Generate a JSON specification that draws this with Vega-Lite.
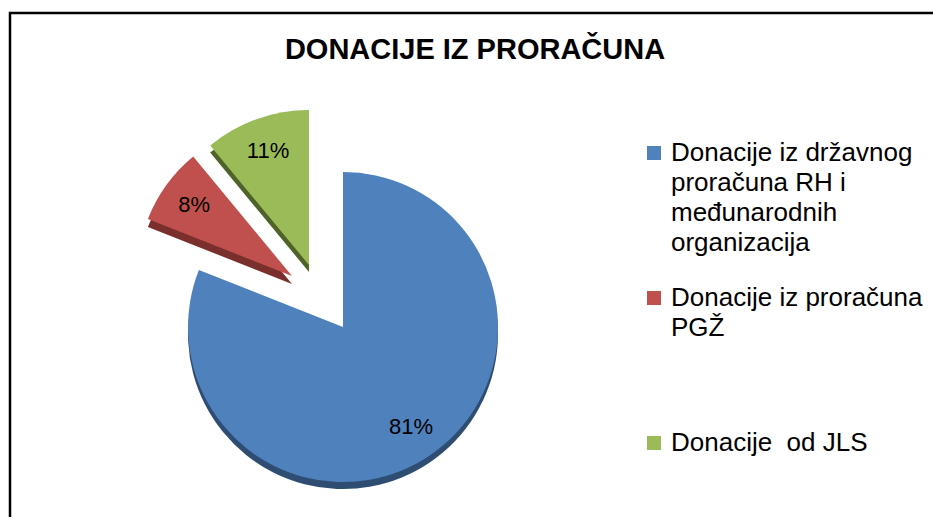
{
  "$schema": "https://vega.github.io/schema/vega-lite/v6.json",
  "width": 940,
  "height": 520,
  "autosize": {"type": "none"},
  "padding": {"left": 10, "top": 13, "right": 0, "bottom": 0},
  "background": "white",
  "view": {"stroke": "black", "strokeWidth": 2.5, "fill": "white"},
  "title": {
    "text": "DONACIJE IZ PRORAČUNA",
    "font": "Liberation Sans",
    "fontSize": 29,
    "fontWeight": "bold",
    "color": "black",
    "anchor": "middle",
    "baseline": "alphabetic",
    "offset": -75,
    "dx": -5
  },
  "data": {
    "values": [
      {"cat": "Donacije iz državnog proračuna RH i međunarodnih organizacija", "value": 0.81, "order": 1},
      {"cat": "Donacije iz proračuna PGŽ", "value": 0.08, "order": 2},
      {"cat": "Donacije  od JLS", "value": 0.11, "order": 3}
    ]
  },
  "transform": [
    {"stack": "value", "groupby": [], "sort": [{"field": "order", "order": "ascending"}], "as": ["v0", "v1"]}
  ],
  "layer": [
    {
      "transform": [{"filter": "datum.order === 1"}],
      "mark": {"type": "arc", "radius": 155, "xOffset": -137, "yOffset": 61},
      "encoding": {
        "theta": {"field": "v0", "type": "quantitative", "scale": {"domain": [0, 1]}},
        "theta2": {"field": "v1"},
        "color": {"value": "#2F4D73"}
      }
    },
    {
      "transform": [{"filter": "datum.order === 2"}],
      "mark": {"type": "arc", "radius": 155, "xOffset": -188, "yOffset": 11},
      "encoding": {
        "theta": {"field": "v0", "type": "quantitative", "scale": {"domain": [0, 1]}},
        "theta2": {"field": "v1"},
        "color": {"value": "#7A2F2D"}
      }
    },
    {
      "transform": [{"filter": "datum.order === 3"}],
      "mark": {"type": "arc", "radius": 155, "xOffset": -171, "yOffset": -1},
      "encoding": {
        "theta": {"field": "v0", "type": "quantitative", "scale": {"domain": [0, 1]}},
        "theta2": {"field": "v1"},
        "color": {"value": "#4F6228"}
      }
    },
    {
      "transform": [{"filter": "datum.order === 1"}],
      "mark": {"type": "arc", "radius": 155, "xOffset": -137, "yOffset": 54},
      "encoding": {
        "theta": {"field": "v0", "type": "quantitative", "scale": {"domain": [0, 1]}},
        "theta2": {"field": "v1"},
        "color": {
          "field": "cat", "type": "nominal",
          "scale": {
            "domain": ["Donacije iz državnog proračuna RH i međunarodnih organizacija", "Donacije iz proračuna PGŽ", "Donacije  od JLS"],
            "range": ["#4F81BD", "#C0504D", "#9BBB59"]
          },
          "legend": {
            "title": null,
            "orient": "none",
            "legendX": 631,
            "legendY": 127,
            "padding": 0,
            "symbolType": "square",
            "symbolSize": 196,
            "symbolStrokeWidth": 0,
            "labelFont": "Liberation Sans",
            "labelFontSize": 26,
            "labelColor": "black",
            "labelLimit": 400,
            "labelOffset": 4,
            "labelBaseline": "middle",
            "gridAlign": "all",
            "rowPadding": 29,
            "labelExpr": "datum.label === 'Donacije iz državnog proračuna RH i međunarodnih organizacija' ? ['Donacije iz državnog', 'proračuna RH i', 'međunarodnih', 'organizacija'] : datum.label === 'Donacije iz proračuna PGŽ' ? ['Donacije iz proračuna', 'PGŽ'] : ['Donacije\u00a0 od JLS']"
          }
        }
      }
    },
    {
      "transform": [{"filter": "datum.order === 2"}],
      "mark": {"type": "arc", "radius": 155, "xOffset": -188, "yOffset": 3},
      "encoding": {
        "theta": {"field": "v0", "type": "quantitative", "scale": {"domain": [0, 1]}},
        "theta2": {"field": "v1"},
        "color": {"field": "cat", "type": "nominal"}
      }
    },
    {
      "transform": [{"filter": "datum.order === 3"}],
      "mark": {"type": "arc", "radius": 155, "xOffset": -171, "yOffset": -8},
      "encoding": {
        "theta": {"field": "v0", "type": "quantitative", "scale": {"domain": [0, 1]}},
        "theta2": {"field": "v1"},
        "color": {"field": "cat", "type": "nominal"}
      }
    },
    {
      "mark": {"type": "text", "radius": 121, "xOffset": -137, "yOffset": 54, "font": "Liberation Sans", "fontSize": 22, "color": "black"},
      "encoding": {
        "theta": {"field": "value", "type": "quantitative", "stack": true, "scale": {"domain": [0, 1]}},
        "order": {"field": "order"},
        "text": {"condition": {"test": "datum.order === 1", "field": "value", "type": "quantitative", "format": ".0%"}, "value": ""}
      }
    },
    {
      "mark": {"type": "text", "radius": 121, "xOffset": -188, "yOffset": 3, "font": "Liberation Sans", "fontSize": 22, "color": "black"},
      "encoding": {
        "theta": {"field": "value", "type": "quantitative", "stack": true, "scale": {"domain": [0, 1]}},
        "order": {"field": "order"},
        "text": {"condition": {"test": "datum.order === 2", "field": "value", "type": "quantitative", "format": ".0%"}, "value": ""}
      }
    },
    {
      "mark": {"type": "text", "radius": 121, "xOffset": -171, "yOffset": -8, "font": "Liberation Sans", "fontSize": 22, "color": "black"},
      "encoding": {
        "theta": {"field": "value", "type": "quantitative", "stack": true, "scale": {"domain": [0, 1]}},
        "order": {"field": "order"},
        "text": {"condition": {"test": "datum.order === 3", "field": "value", "type": "quantitative", "format": ".0%"}, "value": ""}
      }
    }
  ],
  "config": {
    "view": {"stroke": "black", "strokeWidth": 2.5},
    "style": {"guide-label": {"lineHeight": 30}}
  }
}
